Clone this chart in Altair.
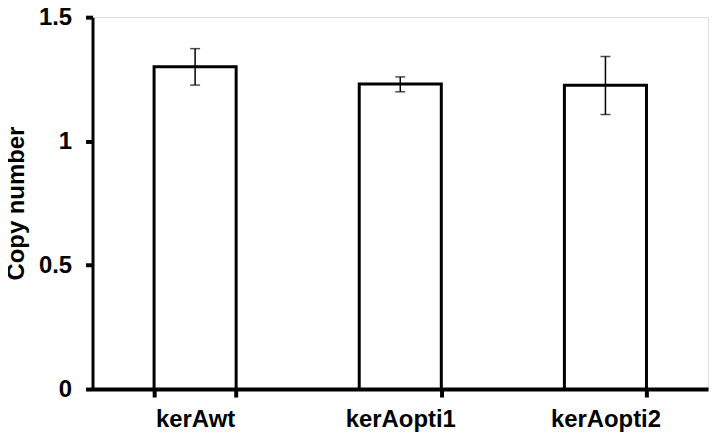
import altair as alt
import pandas as pd

categories = ["kerAwt", "kerAopti1", "kerAopti2"]
means = [1.30, 1.23, 1.225]
err_low = [1.226, 1.199, 1.107]
err_high = [1.373, 1.259, 1.341]

df = pd.DataFrame({"cat": categories, "mean": means, "lo": err_low, "hi": err_high})

FONT = "Liberation Sans"

x_enc = alt.X("cat:N", sort=categories,
              scale=alt.Scale(paddingInner=0.6, paddingOuter=0.3),
              axis=alt.Axis(title=None, labelAngle=0, labelFont=FONT, labelFontSize=24,
                            labelFontWeight="bold", labelColor="black",
                            tickBand="extent", tickSize=8, tickWidth=4, tickColor="black",
                            domainWidth=4, domainColor="black", labelPadding=11, grid=False))

y_scale = alt.Scale(domain=[0, 1.5], nice=False)

bars = alt.Chart(df).mark_bar(fill="white", stroke="black", strokeWidth=3).encode(
    x=x_enc,
    y=alt.Y("mean:Q", scale=y_scale,
            axis=alt.Axis(title="Copy number", values=[0, 0.5, 1, 1.5], labelExpr="datum.value == 0 ? '0' : datum.value == 1 ? '1' : datum.label",
                          labelFont=FONT, labelFontSize=24, labelFontWeight="bold", labelColor="black",
                          titleFont=FONT, titleFontSize=24, titleFontWeight="bold", titleColor="black",
                          tickSize=7, tickWidth=4, tickColor="black", domainWidth=3, domainColor="black",
                          labelPadding=14, titlePadding=10, grid=False)),
)

rule = alt.Chart(df).mark_rule(color="black", strokeWidth=1.5).encode(
    x=alt.X("cat:N", sort=categories), y="lo:Q", y2="hi:Q")
cap_hi = alt.Chart(df).mark_tick(color="black", size=10, thickness=1.5).encode(
    x=alt.X("cat:N", sort=categories), y="hi:Q")
cap_lo = alt.Chart(df).mark_tick(color="black", size=10, thickness=1.5).encode(
    x=alt.X("cat:N", sort=categories), y="lo:Q")

chart = alt.layer(bars, rule, cap_hi, cap_lo).properties(
    width=619, height=374,
    autosize=alt.AutoSizeParams(type="none"),
    padding={"left": 85, "top": 8, "right": 5, "bottom": 46},
).configure_view(stroke=None).configure(background="white")

chart.save("out.html", embed_options={"renderer": "svg", "actions": False})
